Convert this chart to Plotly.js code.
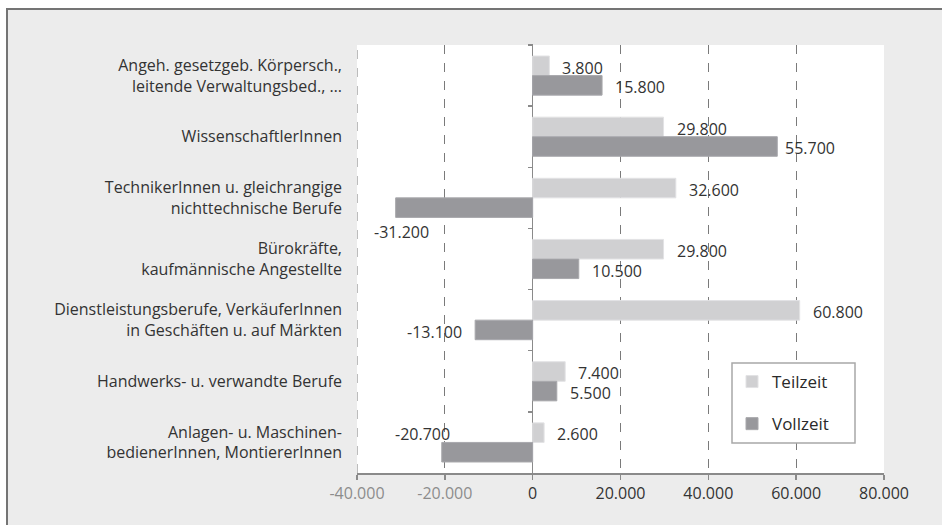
<!DOCTYPE html>
<html>
<head>
<meta charset="utf-8">
<script src="https://cdn.plot.ly/plotly-3.0.1.min.js"></script>
<style>
  html, body { margin: 0; padding: 0; background: #ffffff; }
  #frame { position: absolute; left: 6px; top: 8px; width: 960px; height: 540px;
           background: #ececec; border-left: 2px solid #747474; border-top: 2px solid #747474; }
  #chart { position: absolute; left: 0; top: 0; width: 942px; height: 525px; }
</style>
</head>
<body>
<div id="frame"></div>
<div id="chart"></div>
<script>
// ---- data ----
const categories = [
  "Angeh. gesetzgeb. Körpersch.,<br>leitende Verwaltungsbed., …",
  "WissenschaftlerInnen",
  "TechnikerInnen u. gleichrangige<br>nichttechnische Berufe",
  "Bürokräfte,<br>kaufmännische Angestellte",
  "Dienstleistungsberufe, VerkäuferInnen<br>in Geschäften u. auf Märkten",
  "Handwerks- u. verwandte Berufe",
  "Anlagen- u. Maschinen-<br>bedienerInnen, MontiererInnen"
];
const teilzeit = [3800, 29800, 32600, 29800, 60800, 7400, 2600];
const vollzeit = [15800, 55700, -31200, 10500, -13100, 5500, -20700];
const seriesNames = ["Teilzeit", "Vollzeit"];
const tickValues = [-40000, -20000, 0, 20000, 40000, 60000, 80000];

// ---- helpers ----
function fmt(v) {
  const s = String(Math.abs(v)).replace(/\B(?=(\d{3})+(?!\d))/g, ".");
  return (v < 0 ? "-" : "") + s;
}
const FONT = "Open Sans, Noto Sans, sans-serif";
const xRange = [tickValues[0], tickValues[tickValues.length - 1]];
const yRange = [categories.length - 0.5, -0.5];

const colors = ["#d0d0d2", "#98989c"];
const lineColors = ["#e2e2e4", "#a8a8ac"];
const seriesData = [teilzeit, vollzeit];

const traces = seriesData.map((vals, s) => ({
  type: "bar",
  orientation: "h",
  name: seriesNames[s],
  x: vals,
  y: categories,
  marker: { color: colors[s], line: { color: lineColors[s], width: 1 } },
  legendgroup: "g" + s,
  hoverinfo: "skip"
}));
// invisible helper trace for the category ticks drawn on the zero line
traces.push({
  type: "scatter", mode: "markers", x: teilzeit, y: categories, yaxis: "y2",
  marker: { opacity: 0 }, showlegend: false, hoverinfo: "skip"
});

// data labels (label placement tweaks are styling only)
const rowShift = [8, -11.5];
const nudge = {
  "1-1": { xshift: 6 },
  "1-2": { xanchor: "center", xshift: 6, yshift: -34 },
  "1-6": { xanchor: "right", xshift: 10, yshift: 8 }
};
const annotations = [];
seriesData.forEach((vals, s) => {
  vals.forEach((v, i) => {
    const a = {
      x: v, y: categories[i], xref: "x", yref: "y",
      text: fmt(v), showarrow: false,
      xanchor: v >= 0 ? "left" : "right",
      xshift: v >= 0 ? 11 : -11,
      yshift: rowShift[s],
      font: { family: FONT, size: 16, color: "#333333" }
    };
    Object.assign(a, nudge[s + "-" + i] || {});
    annotations.push(a);
  });
});

const W = 942, H = 525;
const margin = { l: 357, r: 58, t: 45, b: 52 };
const plotW = W - margin.l - margin.r, plotH = H - margin.t - margin.b;
const zeroPos = (0 - xRange[0]) / (xRange[1] - xRange[0]);
// legend frame (pixels -> paper fractions)
const legBox = { left: 732, right: 855, top: 363, bottom: 443 };
const px2x = p => (p - margin.l) / plotW;
const px2y = p => (H - margin.b - p) / plotH;

const layout = {
  width: W, height: H,
  margin: margin,
  paper_bgcolor: "rgba(0,0,0,0)",
  plot_bgcolor: "#ffffff",
  separators: ",.",
  barmode: "group",
  bargap: 0.36,
  bargroupgap: 0,
  font: { family: FONT, size: 16, color: "#333333" },
  showlegend: true,
  legend: {
    x: px2x(legBox.left), y: px2y(legBox.top + 1), xanchor: "left", yanchor: "top",
    bgcolor: "rgba(0,0,0,0)", borderwidth: 0,
    font: { family: FONT, size: 17, color: "#2a2a2a" },
    tracegroupgap: 17,
    traceorder: "grouped"
  },
  xaxis: {
    range: xRange,
    tickvals: tickValues,
    ticktext: tickValues.map(v => v < 0
      ? '<span style="color:#8c8c8c">' + fmt(v) + '</span>'
      : fmt(v)),
    tickfont: { family: FONT, size: 16, color: "#333333" },
    showgrid: true, gridcolor: "#7a7a7a", gridwidth: 1, griddash: "dash",
    zeroline: true, zerolinecolor: "#8a8a8a", zerolinewidth: 1.5,
    showline: true, linecolor: "#8a8a8a", linewidth: 1.5,
    ticks: "outside", ticklen: 5, tickcolor: "#8a8a8a", tickwidth: 1.5,
    fixedrange: true
  },
  yaxis: {
    type: "category",
    range: yRange,
    showgrid: false, zeroline: false, showline: false,
    ticks: "", ticklabelstandoff: 14,
    tickfont: { family: FONT, size: 16, color: "#333333" },
    fixedrange: true
  },
  yaxis2: {
    type: "category",
    overlaying: "y",
    anchor: "free",
    position: zeroPos,
    side: "left",
    range: yRange,
    showgrid: false, zeroline: false, showline: false,
    showticklabels: false,
    ticks: "outside", tickson: "boundaries", ticklen: 5,
    tickcolor: "#8a8a8a", tickwidth: 1.5,
    fixedrange: true
  },
  shapes: [{
    type: "line", xref: "x", yref: "paper",
    x0: xRange[0], x1: xRange[0], y0: 0, y1: 1,
    line: { color: "#7a7a7a", width: 1, dash: "dash" },
    layer: "below"
  }, {
    type: "rect", xref: "paper", yref: "paper",
    x0: px2x(legBox.left), x1: px2x(legBox.right),
    y0: px2y(legBox.bottom), y1: px2y(legBox.top),
    fillcolor: "#ffffff", line: { color: "#a8a8a8", width: 1.5 },
    layer: "above"
  }],
  annotations: annotations
};

Plotly.newPlot("chart", traces, layout, { displayModeBar: false, staticPlot: true });
</script>
</body>
</html>
